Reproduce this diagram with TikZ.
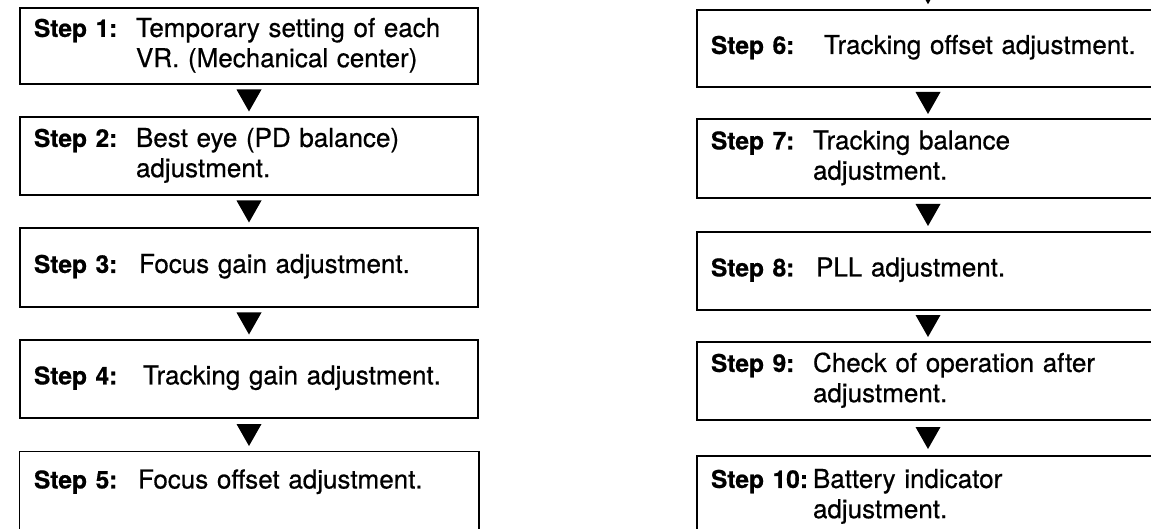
\documentclass[tikz,border=0pt]{standalone}
\usepackage{fontspec}
\setmainfont{TeX Gyre Heros}
\newfontfamily\bodyfont[FakeBold=0.6]{TeX Gyre Heros}
\usetikzlibrary{calc}
\newcommand\StepLabel[2]{\makebox[#1][l]{\fontsize{24.5}{27}\selectfont\bfseries #2}}
\newcommand\StepTwo[3]{\renewcommand\arraystretch{1.12}\begin{tabular}{@{}l@{}l@{}}\StepLabel{102pt}{#1} & #2\\ & #3\end{tabular}}
\newcommand\StepOne[3][105pt]{\begin{tabular}{@{}l@{}l@{}}\StepLabel{#1}{#2} & #3\end{tabular}}
\tikzset{
  stepbox/.style={draw, line width=1.5pt, text width=#1, align=left,
    inner xsep=14pt, inner ysep=0pt, font=\bodyfont\fontsize{26}{27}\selectfont},
  boxline/.style={line width=1.5pt},
  tri/.style={fill=black}
}
\begin{document}
\begin{tikzpicture}[x=1pt,y=-1pt]
\useasboundingbox[fill=white] (0,0) rectangle (1151,529);
% left column
\node[stepbox=430pt, minimum height=76pt] (b1) at (249,46)
  {\StepTwo{Step 1:}{Temporary setting of each}{VR. (Mechanical center)}};
\node[stepbox=430pt, minimum height=78pt] (b2) at (249,156)
  {\StepTwo{Step 2:}{Best eye (PD balance)}{adjustment.}};
\node[stepbox=430pt, minimum height=79pt] (b3) at (249,267.5)
  {\StepOne[105pt]{Step 3:}{Focus gain adjustment.}};
\node[stepbox=430pt, minimum height=78pt] (b4) at (249,379)
  {\StepOne[109pt]{Step 4:}{Tracking gain adjustment.}};
\node[stepbox=430pt, minimum height=62pt, draw=none] (b5) at (249,483)
  {\StepOne[104pt]{Step 5:}{Focus offset adjustment.}};
\draw[boxline] ([yshift=-40pt]b5.south west) -- (b5.north west) -- (b5.north east) -- ([yshift=-40pt]b5.south east);
% right column
\node[stepbox=434pt, minimum height=77pt] (b6) at (928,48.5)
  {\StepOne[113pt]{Step 6:}{Tracking offset adjustment.}};
\node[stepbox=434pt, minimum height=79pt] (b7) at (928,158.5)
  {\StepTwo{Step 7:}{Tracking balance}{adjustment.}};
\node[stepbox=434pt, minimum height=78pt] (b8) at (928,271)
  {\StepOne[105pt]{Step 8:}{PLL adjustment.}};
\node[stepbox=434pt, minimum height=78pt] (b9) at (928,381)
  {\StepTwo{Step 9:}{Check of operation after}{adjustment.}};
\node[stepbox=434pt, minimum height=82pt] (b10) at (928,497)
  {\StepTwo{Step 10:}{Battery indicator}{adjustment.}};
% arrows
\foreach \a/\b in {b1/b2,b2/b3,b3/b4,b4/b5,b6/b7,b7/b8,b8/b9,b9/b10}{
  \path (\a.south) -- (\b.north) coordinate[midway] (t\a);
  \fill[tri] (t\a) ++(-12.5,-11) -- ++(25,0) -- ++(-12.5,22) -- cycle;
}
\coordinate (t0) at ([yshift=16pt]b6.north);
\fill[tri] (t0) ++(-12.5,-11) -- ++(25,0) -- ++(-12.5,22) -- cycle;
\end{tikzpicture}
\end{document}
